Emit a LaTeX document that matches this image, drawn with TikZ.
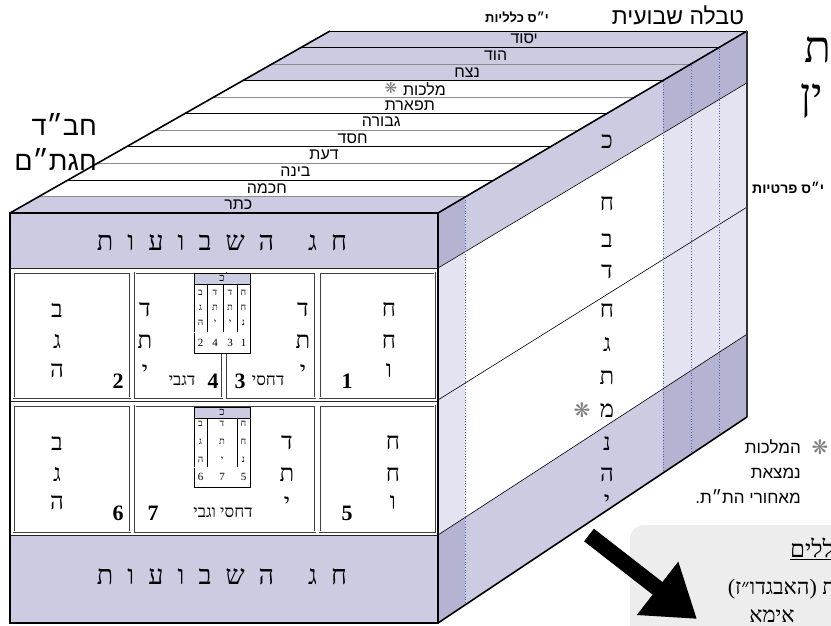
\documentclass[tikz,border=0pt]{standalone}
\usepackage{fontspec}
\usepackage{tikz}
\usetikzlibrary{arrows.meta}
\TeXXeTstate=1
\newfontfamily\hebsans[Script=Hebrew]{Liberation Sans}
\newfontfamily\hebserif[Script=Hebrew]{Liberation Serif}
\newfontfamily\kochavfont{DejaVu Sans}
\definecolor{sefpurple}{HTML}{CBCBE1}
\definecolor{sefdark}{HTML}{B4B4D2}
\definecolor{seflight}{HTML}{E3E3F1}
\definecolor{sefdots}{HTML}{4A64B4}
\definecolor{sefgrey}{HTML}{EDEDED}
\newcommand{\heb}[1]{\beginR#1\endR}
\newcommand{\kochav}[1][20]{{\kochavfont\fontsize{#1}{#1}\selectfont\color{black!50}❋}}
\newcommand{\chagline}{\heb{ח\hspace{14pt}ג\hspace{34pt}ה\hspace{14pt}ש\hspace{14pt}ב\hspace{14pt}ו\hspace{14pt}ע\hspace{14pt}ו\hspace{14pt}ת}}

\begin{document}
\begin{tikzpicture}[x=1pt, y=-1pt,
  edge/.style={black, line width=1.6pt},
  stripline/.style={line width=0.7pt},
  sefira/.style={font=\hebsans\fontsize{16}{16}\selectfont, inner sep=0pt},
  letter/.style={font=\hebserif\fontsize{24}{24}\selectfont, inner sep=0pt},
  cell/.style={font=\hebserif\fontsize{9.5}{9.5}\selectfont, inner sep=0pt},
  cellnum/.style={font=\hebserif\fontsize{11}{11}\selectfont, inner sep=0pt},
  boxnum/.style={font=\hebserif\bfseries\fontsize{22}{22}\selectfont, inner sep=0pt},
  boxtext/.style={font=\hebserif\fontsize{17}{17}\selectfont, inner sep=0pt},
  panel/.style={draw=black!75, line width=0.5pt, double=white, double distance=1pt},
  inset/.style={draw=black, line width=0.9pt},
  header/.style={font=\hebserif\fontsize{27}{27}\selectfont, inner sep=0pt},
  note/.style={font=\hebsans\fontsize{17}{25}\selectfont, inner sep=0pt, align=right},
  bigarrow/.style={line width=16pt, -{Triangle[length=50pt, width=64pt]}}
]
\useasboundingbox (0,0) rectangle (831,626);

\begin{scope}
  \clip (10,213) -- (330,31) -- (747,31) -- (438,213) -- cycle;
  \fill[white] (0,31) rectangle (760,213);
  \fill[sefpurple] (0,31) rectangle (760,80.64);
  \fill[sefpurple] (0,196.45) rectangle (760,213);
  \foreach \k in {1,3,...,9}
    \draw[stripline, black] (0,{31+\k*182/11}) -- (760,{31+\k*182/11});
  \foreach \k in {2,4,...,10}
    \draw[stripline, black!45] (0,{31+\k*182/11}) -- (760,{31+\k*182/11});
\end{scope}
\foreach \name/\dx [count=\i from 0] in {יסוד/0,הוד/0,נצח/0,מלכות/-14,תפארת/0,גבורה/0,חסד/0,דעת/0,בינה/0,חכמה/0,כתר/0}
  \node[sefira] at ({224+\dx+(213-(31+(\i+0.5)*182/11))*1.728},{31+(\i+0.5)*182/11}) {\name};
\node[inner sep=0pt] (kochavtop) at (391,88.5) {\kochav[15]};

\foreach \fa/\ba/\fb/\bb/\cmain/\cside in {213/31/268/82.8/sefpurple/sefdark, 268/82.8/535/334.2/white/seflight, 535/334.2/623/417/sefpurple/sefdark}{
  \begin{scope}
    \clip (438,\fa) -- (747,\ba) -- (747,\bb) -- (438,\fb) -- cycle;
    \fill[\cmain] (438,0) rectangle (747,640);
    \fill[\cside] (438,0) rectangle (465,640);
    \fill[\cside] (663,0) rectangle (747,640);
  \end{scope}
}
\foreach \fa/\ba in {268/82.8, 400/207.1, 535/334.2}
  \draw[black, line width=0.6pt] (438,\fa) -- (747,\ba);
\begin{scope}
  \clip (438,213) -- (747,31) -- (747,417) -- (438,623) -- cycle;
  \foreach \x in {465,663,691,719}
    \draw[sefdots, dotted, line width=0.7pt] (\x,0) -- (\x,640);
\end{scope}
\foreach \l/\y in {כ/141,ח/204,ב/240,ד/272,ח/311,ג/345,ת/378,מ/410,נ/443,ה/475,י/501}
  \node[letter] at (607,\y) {\l};
\node[inner sep=0pt] (kochavside) at (582,410) {\kochav};

\fill[white] (10,213) rectangle (438,623);
\fill[sefpurple] (10,213) rectangle (438,268);
\fill[sefpurple] (10,535) rectangle (438,623);
\draw[black!85, line width=0.9pt] (10,268) -- (438,268);
\draw[black!85, line width=0.9pt] (10,401.5) -- (438,401.5);
\draw[black!85, line width=0.9pt] (10,535) -- (438,535);
\node[header] (chagtop) at (222,243) {\chagline};
\node[header] (chagbottom) at (222,577) {\chagline};

\draw[panel] (13.5,272.5) rectangle (130,397.5);
\draw[panel] (135,272.5) rectangle (222,397.5);
\draw[panel] (227,272.5) rectangle (315,397.5);
\draw[panel] (319.5,272.5) rectangle (434.5,397.5);
\draw[panel] (13.5,405.5) rectangle (130,531.5);
\draw[panel] (135,405.5) rectangle (315,531.5);
\draw[panel] (319.5,405.5) rectangle (434.5,531.5);

\foreach \x/\a/\b/\c in {389/ח/ח/ו, 303/ד/ת/י, 145/ד/ת/י, 57/ב/ג/ה}{
  \node[letter] at (\x,310) {\a};
  \node[letter] at (\x,342) {\b};
  \node[letter] at (\x,371) {\c};
}
\foreach \x/\a/\b/\c in {393/ח/ח/ו, 287/ד/ת/י, 57/ב/ג/ה}{
  \node[letter] at (\x,443) {\a};
  \node[letter] at (\x,475) {\b};
  \node[letter] at (\x,503) {\c};
}
\node[boxnum] (num1) at (347,381) {1};
\node[boxnum] (num2) at (118,381) {2};
\node[boxnum] (num3) at (240,381) {3};
\node[boxnum] (num4) at (213,381) {4};
\node[boxnum] (num5) at (347,513) {5};
\node[boxnum] (num6) at (118,513) {6};
\node[boxnum] (num7) at (153,513) {7};
\node[boxtext] (dachsi) at (268,381) {דחסי};
\node[boxtext] (dagbi) at (182,381) {דגבי};
\node[boxtext] (dachsivegabi) at (223,513) {\heb{דחסי וגבי}};

\fill[white] (194,273) rectangle (250,353);
\fill[sefpurple] (194,273) rectangle (250,284);
\draw[inset] (194,273) rectangle (250,353);
\draw[black, line width=0.6pt] (194,284) -- (250,284);
\draw[black, line width=0.4pt, double=white, double distance=0.8pt] (194,332.5) -- (250,332.5);
\foreach \x in {207,223,237}
  \draw[black, line width=0.5pt] (\x,284) -- (\x,331.5);
\node[cellnum] at (222,278.5) {כ};
\foreach \x/\a/\b/\c/\n in {200.5/ב/ג/ה/2, 215/ד/ת/י/4, 230/ד/ת/י/3, 243.5/ח/ח/נ/1}{
  \node[cell] at (\x,293) {\a};
  \node[cell] at (\x,308) {\b};
  \node[cell] at (\x,323) {\c};
  \node[cellnum] at (\x,343) {\n};
}

\fill[white] (194,407) rectangle (250,487);
\fill[sefpurple] (194,407) rectangle (250,418);
\draw[inset] (194,407) rectangle (250,487);
\draw[black, line width=0.6pt] (194,418) -- (250,418);
\draw[black, line width=0.4pt, double=white, double distance=0.8pt] (194,467.5) -- (250,467.5);
\foreach \x in {207,237}
  \draw[black, line width=0.5pt] (\x,418) -- (\x,466.5);
\node[cellnum] at (222,412.5) {כ};
\foreach \x/\a/\b/\c/\n in {200.5/ב/ג/ה/6, 222/ד/ת/י/7, 243.5/ח/ח/נ/5}{
  \node[cell] at (\x,424) {\a};
  \node[cell] at (\x,442) {\b};
  \node[cell] at (\x,460) {\c};
  \node[cellnum] at (\x,477) {\n};
}

\draw[edge] (10,213) -- (330,31);
\draw[black, line width=0.8pt] (330,31) -- (747,31);
\draw[edge] (438,213) -- (747,31);
\draw[black!80, line width=1.3pt] (747,31) -- (747,417);
\draw[edge] (438,623) -- (747,417);
\draw[edge] (10,213) rectangle (438,623);

\node[font=\hebsans\fontsize{27}{35}\selectfont, inner sep=0pt, align=right, anchor=east] (chabad) at (97,142) {חב״ד\\חגת״ם};
\node[font=\hebsans\fontsize{23}{23}\selectfont, inner sep=0pt] (title) at (678,15) {\heb{טבלה שבועית}};
\node[font=\hebsans\bfseries\fontsize{13}{13}\selectfont, inner sep=0pt] (klaliyot) at (517,17) {\heb{י״ס כלליות}};
\node[font=\hebsans\bfseries\fontsize{14}{14}\selectfont, inner sep=0pt, anchor=west] (pratiyot) at (752,188) {\heb{י״ס פרטיות}};
\node[font=\hebserif\fontsize{44}{44}\selectfont, inner sep=0pt, anchor=west] (fragtav) at (804,50) {ת};
\node[font=\hebserif\fontsize{44}{44}\selectfont, inner sep=0pt, anchor=north west] (fragyn) at (800,83) {ין};

\node[inner sep=0pt] (kochavnote) at (820,447) {\kochav};
\node[note, anchor=north east] (malchutnote) at (801,439) {המלכות\\נמצאת\\\heb{מאחורי הת״ת\hbox{.}}};

\fill[sefgrey, rounded corners=14pt] (630,525) rectangle (880,680);
\node[font=\hebserif\fontsize{24}{24}\selectfont, inner sep=0pt, anchor=east] (klalim) at (834,549) {\underline{ללים}};
\node[font=\hebserif\fontsize{22}{22}\selectfont, inner sep=0pt, anchor=east] (avgad) at (836,589) {\heb{ת (האבגדו״ז)}};
\node[font=\hebserif\fontsize{22}{22}\selectfont, inner sep=0pt] (ima) at (772,616) {אימא};

\coordinate (arrowfrom) at (589,535);
\coordinate (arrowto) at (697,619);
\draw[bigarrow] (arrowfrom) -- (arrowto);
\end{tikzpicture}
\end{document}
